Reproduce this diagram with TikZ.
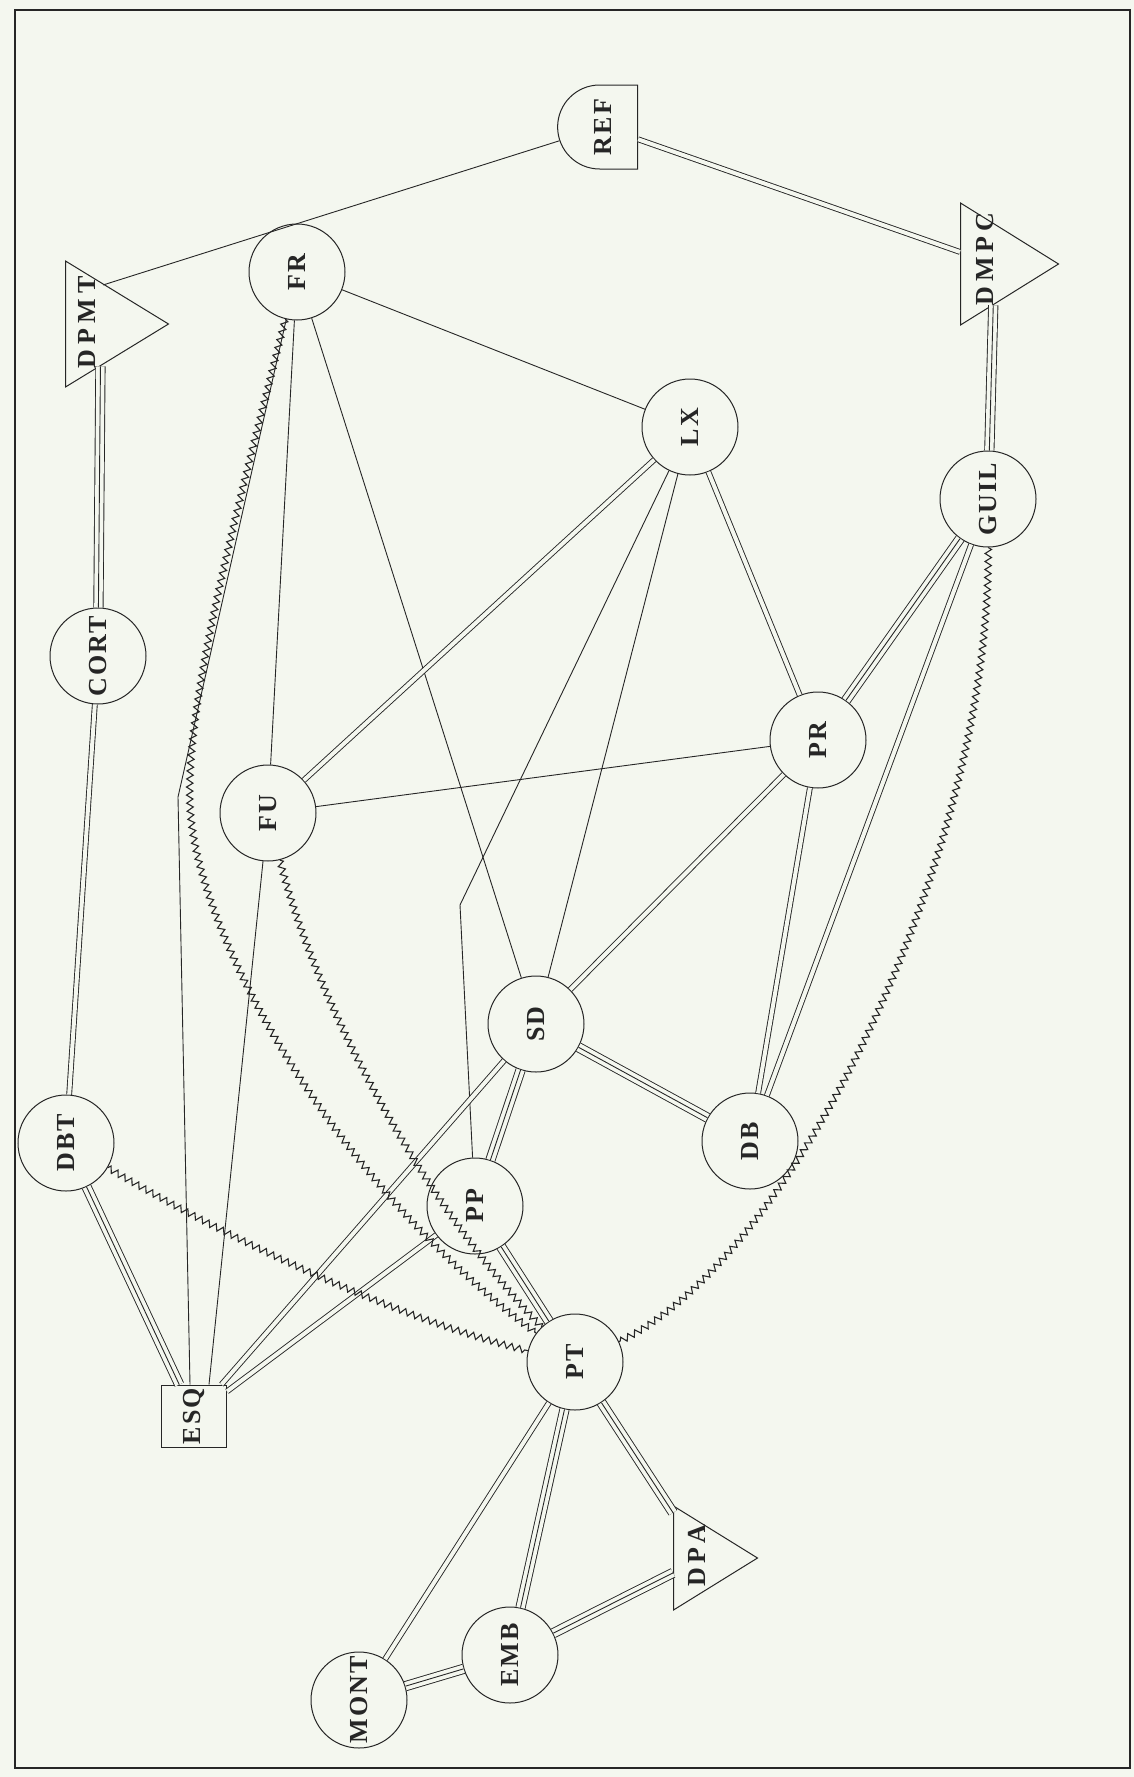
\documentclass[tikz,border=0pt]{standalone}
\usepackage{graphicx}
\usepackage{fontspec}
\usetikzlibrary{shapes.geometric,shapes.misc,decorations.pathmorphing}
\newfontfamily\netfont[LetterSpace=8]{Liberation Serif}
\newfontfamily\trifont[LetterSpace=20]{Liberation Serif}
\newcommand{\lblfont}{\netfont\bfseries\fontsize{26}{28}\selectfont}
\newcommand{\trilblfont}{\trifont\bfseries\fontsize{26}{28}\selectfont}
\definecolor{paper}{RGB}{244,247,239}
\definecolor{ink}{RGB}{38,38,38}

\begin{document}
\begin{tikzpicture}[
	x=1pt,y=-1pt,
	cnode/.style={circle,draw=ink,line width=1pt,minimum size=96pt,inner sep=0pt,text=ink,font=\lblfont},
	bnode/.style={rectangle,draw=ink,line width=1pt,minimum width=65pt,minimum height=62pt,inner sep=0pt,text=ink,font=\lblfont},
	rnode/.style={rounded rectangle,rounded rectangle right arc=none,draw=ink,line width=1pt,minimum width=80pt,minimum height=84pt,inner sep=0pt,text=ink,font=\lblfont},
	tnode/.style={isosceles triangle,isosceles triangle stretches,draw=ink,line width=1pt,inner sep=0pt,anchor=lower side},
	tlab/.style={inner sep=0pt,text=ink,font=\trilblfont},
	fedge/.style={draw=ink,line width=0.9pt},
	dedge/.style={fedge,double=paper,double distance=4pt},
	tedge/.style={fedge,double=paper,double distance=8.4pt},
	wedge/.style={fedge,line width=1.1pt,decorate,decoration={zigzag,segment length=8pt,amplitude=3.2pt}}
	]
	\fill[paper] (0,0) rectangle (1134,1777);
	\useasboundingbox (0,0) rectangle (1134,1777);
	\draw[ink,line width=1.6pt] (15,10) rectangle (1130,1768);

	% circles
	\foreach \nm/\x/\y/\lab in {fr/297/272/FR,lx/690/427/LX,guil/988/499/GUIL,cort/98/656/CORT,
		fu/268/813/FU,pr/818/740/PR,sd/536/1024/SD,dbt/66/1143/DBT,db/750/1141/DB,
		pp/475/1206/PP,pt/575/1362/PT,emb/510/1655/EMB,mont/359/1700/MONT}{
		\node[cnode] (\nm) at (\x,\y) {\rotatebox{90}{\lab}};
	}
	\node[rnode] (ref) at (603,127) {\rotatebox{90}{REF}};
	\node[bnode] (esq) at (194,1416) {\rotatebox{90}{ESQ}};

	% triangles
	\node[tnode,minimum width=126pt,minimum height=103pt] (dpmt) at (65,324) {};
	\node[tnode,minimum width=122pt,minimum height=98pt] (dmpc) at (960,264) {};
	\node[tnode,minimum width=104pt,minimum height=84pt] (dpa) at (673,1558) {};
	\node[tlab] (dpmtlab) at (87,322) {\rotatebox{90}{DPMT}};
	\node[tlab] (dmpclab) at (985,259) {\rotatebox{90}{DMPC}};
	\node[tlab] (dpalab) at (697,1556) {\rotatebox{90}{DPA}};

	\coordinate (frbend) at (178,797);
	\coordinate (lxbend) at (460,905);
	\coordinate (frwave) at (190,805);
	\coordinate (dpmttop) at (103,285);

	% single links
	\foreach \a/\b in {fr/lx,fr/fu,fr/sd,lx/sd,fu/pr}{
		\draw[fedge] (\a) -- (\b);
	}
	\draw[fedge] (ref) -- (dpmttop);
	\draw[fedge] (fu) -- ([xshift=15pt]esq.north);
	\draw[fedge] (fr) -- (frbend) -- ([xshift=-4pt]esq.north);
	\draw[fedge] (lx) -- (lxbend) -- (pp);

	% double links
	\foreach \a/\b in {ref/dmpc,cort/dbt,lx/fu,lx/pr,pr/sd,pr/db,guil/db,sd/esq,pp/esq,pt/mont}{
		\draw[dedge] (\a) -- (\b);
	}

	% triple links
	\foreach \a/\b in {dpmt/cort,dmpc/guil,guil/pr,sd/db,sd/pp,pp/pt,dbt/esq,pt/emb,pt/dpa,emb/mont,emb/dpa}{
		\draw[tedge] (\a) -- (\b);
		\draw[fedge] (\a) -- (\b);
	}

	% wavy links
	\draw[wedge] (fr) .. controls (240,500) and (185,700) .. (frwave) .. controls (195,930) and (330,1180) .. (pt);
	\draw[wedge] (fu) .. controls (315,1000) and (420,1200) .. (pt);
	\draw[wedge] (dbt) .. controls (230,1240) and (400,1320) .. (pt);
	\draw[wedge] (guil) .. controls (990,860) and (790,1262) .. (pt);
\end{tikzpicture}
\end{document}
